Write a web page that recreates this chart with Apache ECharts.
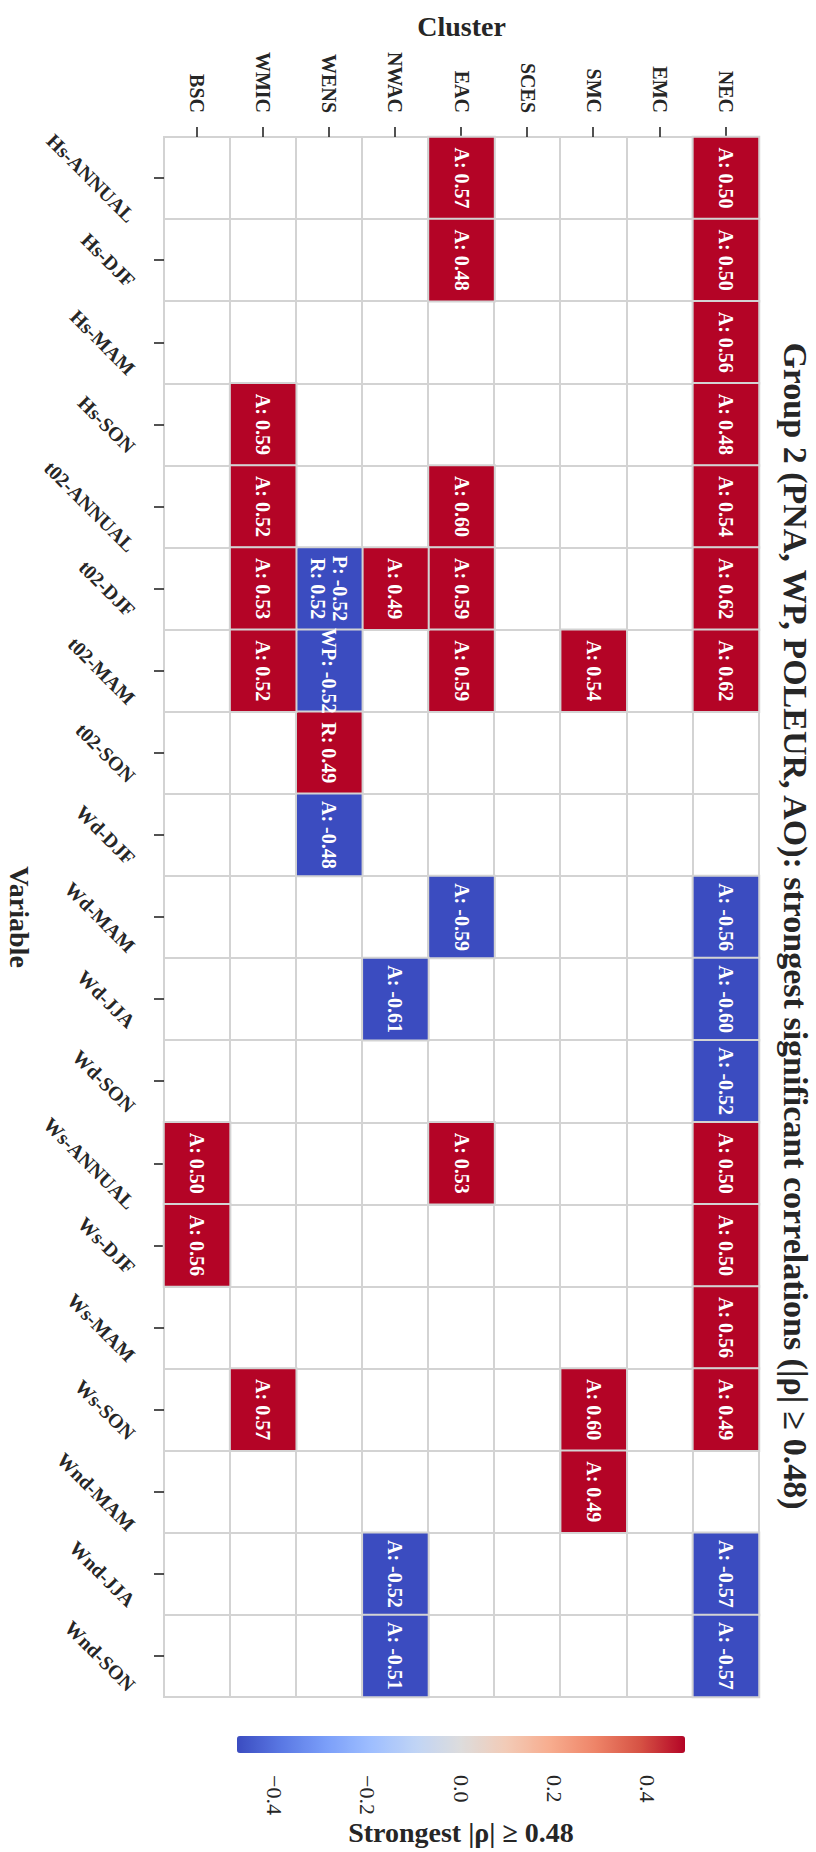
<!DOCTYPE html>
<html>
<head>
<meta charset="utf-8">
<script src="https://cdn.jsdelivr.net/npm/echarts@6/dist/echarts.min.js"></script>
<style>
  html, body { margin: 0; padding: 0; background: #fff; overflow: hidden; }
  #page { position: relative; width: 816px; height: 1852px; }
  /* the figure is drawn landscape and turned a quarter clockwise */
  #chart { position: absolute; left: 0; top: 0; width: 1852px; height: 816px;
           transform-origin: 0 0; transform: translate(816px, 0) rotate(90deg); }
</style>
</head>
<body>
<div id="page"><div id="chart"></div></div>
<script>
const variables = ['Hs-ANNUAL', 'Hs-DJF', 'Hs-MAM', 'Hs-SON', 't02-ANNUAL', 't02-DJF', 't02-MAM', 't02-SON',
  'Wd-DJF', 'Wd-MAM', 'Wd-JJA', 'Wd-SON', 'Ws-ANNUAL', 'Ws-DJF', 'Ws-MAM', 'Ws-SON', 'Wnd-MAM', 'Wnd-JJA', 'Wnd-SON']
const clusters = ['NEC', 'EMC', 'SMC', 'SCES', 'EAC', 'NWAC', 'WENS', 'WMIC', 'BSC']

// strongest significant rho per variable, one list per cluster (null = nothing above threshold)
const nec = [0.50, 0.50, 0.56, 0.48, 0.54, 0.62, 0.62, null, null, -0.56, -0.60, -0.52, 0.50, 0.50, 0.56, 0.49, null, -0.57, -0.57]
const emc = [null, null, null, null, null, null, null, null, null, null, null, null, null, null, null, null, null, null, null]
const smc = [null, null, null, null, null, null, 0.54, null, null, null, null, null, null, null, null, 0.60, 0.49, null, null]
const sces = [null, null, null, null, null, null, null, null, null, null, null, null, null, null, null, null, null, null, null]
const eac = [0.57, 0.48, null, null, 0.60, 0.59, 0.59, null, null, -0.59, null, null, 0.53, null, null, null, null, null, null]
const nwac = [null, null, null, null, null, 0.49, null, null, null, null, -0.61, null, null, null, null, null, null, -0.52, -0.51]
const wens = [null, null, null, null, null, -0.52, -0.52, 0.49, -0.48, null, null, null, null, null, null, null, null, null, null]
const wmic = [null, null, null, 0.59, 0.52, 0.53, 0.52, null, null, null, null, null, null, null, null, 0.57, null, null, null]
const bsc = [null, null, null, null, null, null, null, null, null, null, null, null, 0.50, 0.56, null, null, null, null, null]
const clusterRows = [nec, emc, smc, sces, eac, nwac, wens, wmic, bsc]

// cells whose text is not the default "A: value"
const labelOverrides = [
  ['t02-DJF', 'WENS', 'P: -0.52\nR: 0.52'],
  ['t02-MAM', 'WENS', 'WP: -0.52'],
  ['t02-SON', 'WENS', 'R: 0.49']
]

const colorbarTicks = [-0.4, -0.2, 0, 0.2, 0.4]
const vmin = -0.48, vmax = 0.48

const FONT = '"Liberation Serif", "Times New Roman", serif'
const INK = '#262626'
const CELL_EDGE = '#d3d3d3'
const coolwarm = ['#3b4cc0', '#5a78e4', '#7b9ff9', '#9ebeff', '#c0d4f5', '#dddcdc',
  '#f2cbb7', '#f7ac8e', '#ee8468', '#d65244', '#b40426']

const cells = []
clusterRows.forEach((row, j) => {
  row.forEach((v, i) => {
    if (v === null) return
    const hit = labelOverrides.find(o => o[0] === variables[i] && o[1] === clusters[j])
    cells.push({ value: [i, j, v], text: hit ? hit[2] : `A: ${v.toFixed(2)}` })
  })
})

const tickStyle = { color: INK, width: 1.6 }

const chart = echarts.init(document.getElementById('chart'), null, { renderer: 'svg' })

const option = {
  animation: false,
  textStyle: { fontFamily: FONT },
  title: {
    text: 'Group 2 (PNA, WP, POLEUR, AO): strongest significant correlations (|ρ| ≥ 0.48)',
    left: 'center',
    top: 4,
    padding: 0,
    textStyle: { fontFamily: FONT, fontSize: 34, fontWeight: 'bold', color: INK }
  },
  grid: [
    { left: 137, top: 57, width: 1560, height: 596, show: true, borderColor: CELL_EDGE, borderWidth: 2 },
    { left: 1736, top: 131, width: 17, height: 448 }
  ],
  xAxis: [
    {
      type: 'category', gridIndex: 0, data: variables, position: 'bottom',
      axisLine: { show: false },
      axisTick: { show: true, alignWithLabel: true, interval: 0, length: 10, lineStyle: tickStyle },
      axisLabel: { show: false, interval: 0 },
      splitLine: { show: true, interval: 0, lineStyle: { color: CELL_EDGE, width: 2 } },
      name: 'Variable', nameLocation: 'middle', nameGap: 131,
      nameTextStyle: { fontFamily: FONT, fontSize: 28, fontWeight: 'bold', color: INK }
    },
    { type: 'value', gridIndex: 1, show: false, min: 0, max: 1 }
  ],
  yAxis: [
    {
      type: 'category', gridIndex: 0, data: clusters, inverse: true,
      axisLine: { show: false },
      axisTick: { show: true, alignWithLabel: true, interval: 0, length: 10, lineStyle: tickStyle },
      axisLabel: { interval: 0, margin: 24, fontFamily: FONT, fontSize: 20, fontWeight: 'bold', color: INK },
      splitLine: { show: true, interval: 0, lineStyle: { color: CELL_EDGE, width: 2 } },
      name: 'Cluster', nameLocation: 'middle', nameRotate: 90, nameGap: 97,
      nameTextStyle: { fontFamily: FONT, fontSize: 28, fontWeight: 'bold', color: INK }
    },
    {
      type: 'value', gridIndex: 1, position: 'right', min: vmin, max: vmax,
      axisLine: { show: false },
      splitLine: { show: false },
      axisTick: { show: true, length: 10, customValues: colorbarTicks, lineStyle: tickStyle },
      axisLabel: {
        customValues: colorbarTicks, margin: 22, fontFamily: FONT, fontSize: 22, color: INK,
        formatter: v => (v < 0 ? '\u2212' + Math.abs(v).toFixed(1) : v.toFixed(1))
      },
      name: 'Strongest |ρ| ≥ 0.48', nameLocation: 'middle', nameRotate: 90, nameGap: 65,
      nameTextStyle: { fontFamily: FONT, fontSize: 28, fontWeight: 'bold', color: INK }
    }
  ],
  visualMap: {
    type: 'continuous', seriesIndex: 0, dimension: 2,
    min: vmin, max: vmax, orient: 'vertical',
    left: 1736, top: 131, itemWidth: 17, itemHeight: 448, padding: 0,
    calculable: false, hoverLink: false, text: null,
    inRange: { color: coolwarm }
  },
  series: [
    {
      type: 'heatmap', xAxisIndex: 0, yAxisIndex: 0,
      data: cells,
      itemStyle: { borderColor: CELL_EDGE, borderWidth: 2 },
      label: {
        show: true, color: '#fff', fontFamily: FONT, fontSize: 20, fontWeight: 'bold', lineHeight: 22,
        formatter: p => p.data.text
      },
      emphasis: { disabled: true }
    }
  ]
}

chart.setOption(option)

// variable names: 45 deg, centred under the tick like matplotlib's ha='center'
const ctx = document.createElement('canvas').getContext('2d')
const labelFont = `bold 20px ${FONT}`
ctx.font = labelFont
const gridBottom = chart.convertToPixel({ yAxisIndex: 0 }, clusters[clusters.length - 1]) + 596 / clusters.length / 2
const labelTop = gridBottom + 24
const textH = 23

chart.setOption({
  graphic: variables.map((name, i) => {
    const x = chart.convertToPixel({ xAxisIndex: 0 }, name)
    const L = ctx.measureText(name).width
    const y = labelTop + Math.SQRT1_2 * (L + textH) / 2
    return {
      type: 'text', x, y, rotation: Math.PI / 4, silent: true,
      style: {
        text: name, font: labelFont, fill: INK,
        align: 'center', verticalAlign: 'middle', textAlign: 'center', textVerticalAlign: 'middle'
      }
    }
  })
})
</script>
</body>
</html>
